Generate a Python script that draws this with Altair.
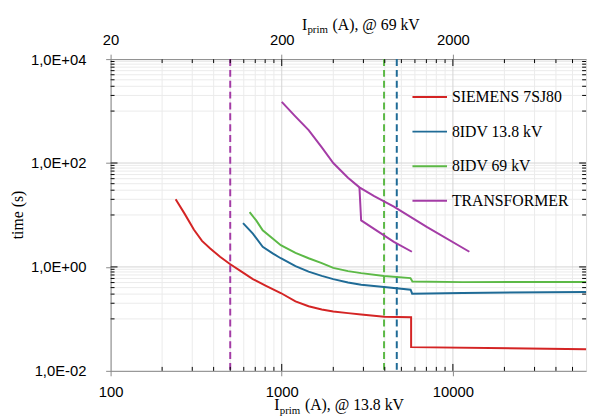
import altair as alt
import pandas as pd

# ---------------- data ----------------
series_names = ["SIEMENS 7SJ80", "8IDV 13.8 kV", "8IDV 69 kV", "TRANSFORMER"]
series_colors = ["#d42424", "#1f6b96", "#5cb946", "#a43ca6"]

siemens_x = [240, 271, 307, 342, 382, 436, 498, 594, 678, 809, 987, 1203, 1435, 1713, 2000,
             2439, 2911, 3963, 5700, 5700, 60000]
siemens_y = [20, 10.5, 5.2, 3.17, 2.27, 1.57, 1.14, 0.778, 0.582, 0.434, 0.315, 0.218, 0.175,
             0.152, 0.139, 0.129, 0.122, 0.110, 0.108, 0.0286, 0.026]

idv138_x = [594, 678, 774, 885, 987, 1203, 1435, 1713, 2000, 2439, 2911, 3963, 5660, 5780, 11400, 60000]
idv138_y = [6.98, 4.38, 2.44, 1.82, 1.47, 1.04, 0.81, 0.674, 0.582, 0.502, 0.454, 0.41, 0.365,
            0.306, 0.316, 0.33]

idv69_x = [649, 709, 774, 885, 987, 1203, 1435, 1713, 2000, 2439, 2911, 3963, 5650, 5800, 11400, 60000]
idv69_y = [11.3, 7.85, 5.07, 3.52, 2.62, 1.87, 1.47, 1.18, 0.96, 0.83, 0.76, 0.67, 0.61, 0.525,
           0.51, 0.515]

trafo_upper_x = [1000, 1200, 1436, 1714, 2000, 2437, 2844, 3467, 4520, 7030, 12480]
trafo_upper_y = [1500, 790, 430, 200, 100, 52, 34, 23, 14.5, 5.9, 1.96]
trafo_lower_x = [2844, 2910, 4520, 5760]
trafo_lower_y = [34, 7.85, 3.03, 1.96]

pickup_x = [500, 3960, 4700]
pickup_colors = ["#a43ca6", "#5cb946", "#1f6b96"]

x_minor = [200, 300, 400, 500, 600, 700, 800, 900,
           2000, 3000, 4000, 5000, 6000, 7000, 8000, 9000,
           20000, 30000, 40000, 50000]
x_major = [1000, 10000]
y_minor = [0.1, 0.2, 0.3, 0.4, 0.5, 0.6, 0.7, 0.8, 0.9,
           10, 20, 30, 40, 50, 60, 70, 80, 90,
           1000, 2000, 3000, 4000, 5000, 6000, 7000, 8000, 9000]
y_major = [1, 100]

x_label_values = [100, 1000, 10000]
top_labels = ["20", "200", "2000"]
y_label_values = [0.01, 1, 100, 10000]
y_labels = ["1,0E-02", "1,0E+00", "1,0E+02", "1,0E+04"]

title_main = "I"
title_sub = "prim"
bottom_rest = "(A), @ 13.8 kV"
top_rest = "(A), @ 69 kV"
y_title = "time (s)"

# ---------------- build tables ----------------
rows = []
def add(name, seg, xs, ys):
    for i, (a, b) in enumerate(zip(xs, ys)):
        rows.append({"series": name, "seg": seg, "order": i, "x": a, "y": b})

add(series_names[0], "a", siemens_x, siemens_y)
add(series_names[1], "b", idv138_x, idv138_y)
add(series_names[2], "c", idv69_x, idv69_y)
add(series_names[3], "d", trafo_upper_x, trafo_upper_y)
add(series_names[3], "e", trafo_lower_x, trafo_lower_y)
curves = pd.DataFrame(rows)

W, H = 482, 316
FONT = "Liberation Serif"

xscale = alt.Scale(type="log", domain=[100, 60000], nice=False)
yscale = alt.Scale(type="log", domain=[0.01, 10000], nice=False)

def expr_map(vals, labs):
    e = "''"
    for v, l in zip(vals, labs):
        e = f"(abs(datum.value - {v}) < {v}*1e-6) ? '{l}' : " + e
    return e

# grid
gx_minor = alt.Chart(pd.DataFrame({"x": x_minor})).mark_rule(color="#ebebeb", strokeWidth=1).encode(
    x=alt.X("x:Q", scale=xscale, axis=None), y=alt.value(0), y2=alt.value(H))
gy_minor = alt.Chart(pd.DataFrame({"y": y_minor})).mark_rule(color="#ebebeb", strokeWidth=1).encode(
    y=alt.Y("y:Q", scale=yscale, axis=None), x=alt.value(0), x2=alt.value(W))
gx_major = alt.Chart(pd.DataFrame({"x": x_major})).mark_rule(color="#d4d4d4", strokeWidth=1).encode(
    x=alt.X("x:Q", scale=xscale, axis=None), y=alt.value(0), y2=alt.value(H))
gy_major = alt.Chart(pd.DataFrame({"y": y_major})).mark_rule(color="#d4d4d4", strokeWidth=1).encode(
    y=alt.Y("y:Q", scale=yscale, axis=None), x=alt.value(0), x2=alt.value(W))

# top axis (labels only) carried by an invisible layer
top_axis = alt.Chart(pd.DataFrame({"x": x_label_values})).mark_point(opacity=0).encode(
    x=alt.X("x:Q", scale=xscale,
            axis=alt.Axis(orient="top", values=x_label_values, title=None, labelFlush=False,
                          labelExpr=expr_map(x_label_values, top_labels),
                          labelPadding=7, labelFontSize=15)),
    y=alt.value(0))

# dashed pickups
dash = alt.Chart(pd.DataFrame({"x": pickup_x, "c": pickup_colors})).mark_rule(
    strokeWidth=2, strokeDash=[7, 4]).encode(
    x=alt.X("x:Q", scale=xscale, axis=None), y=alt.value(0), y2=alt.value(H),
    color=alt.Color("c:N", scale=None))

# curves
lines = alt.Chart(curves).mark_line(strokeWidth=2).encode(
    x=alt.X("x:Q", scale=xscale,
            axis=alt.Axis(orient="bottom", values=x_label_values, title=None, labelFlush=False,
                          labelExpr="format(datum.value, 'd')", labelPadding=9, labelFontSize=15)),
    y=alt.Y("y:Q", scale=yscale,
            axis=alt.Axis(orient="left", values=y_label_values, title=None, labelFlush=False,
                          labelExpr=expr_map(y_label_values, y_labels), labelPadding=20,
                          labelFontSize=15, labelOverlap=False)),
    color=alt.Color("series:N", scale=alt.Scale(domain=series_names, range=series_colors),
                    legend=alt.Legend(title=None, orient="none", legendX=305, legendY=20,
                                      symbolType="stroke", symbolSize=1225, symbolStrokeWidth=2,
                                      labelFont=FONT, labelFontSize=16, labelOffset=4,
                                      rowPadding=8, labelColor="black")),
    detail="seg:N",
    order="order:Q")

# inside ticks
def xticks(vals, length):
    d = pd.DataFrame({"x": vals})
    b = alt.Chart(d).mark_rule(color="black", strokeWidth=1).encode(
        x=alt.X("x:Q", scale=xscale, axis=None), y=alt.value(H), y2=alt.value(H - length))
    t = alt.Chart(d).mark_rule(color="black", strokeWidth=1).encode(
        x=alt.X("x:Q", scale=xscale, axis=None), y=alt.value(0), y2=alt.value(length))
    return [b, t]

def yticks(vals, length):
    d = pd.DataFrame({"y": vals})
    l = alt.Chart(d).mark_rule(color="black", strokeWidth=1).encode(
        y=alt.Y("y:Q", scale=yscale, axis=None), x=alt.value(0), x2=alt.value(length))
    r = alt.Chart(d).mark_rule(color="black", strokeWidth=1).encode(
        y=alt.Y("y:Q", scale=yscale, axis=None), x=alt.value(W), x2=alt.value(W - length))
    return [l, r]

ticks = xticks(x_minor, 4) + xticks(x_major, 7) + yticks(y_minor, 4) + yticks(y_major, 7)

# titles as text (for subscript)
def txt(s, x, y, size, angle=None, align="left"):
    kw = dict(font=FONT, fontSize=size, color="black", align=align, baseline="alphabetic")
    if angle is not None:
        kw["angle"] = angle
        kw["baseline"] = "middle"
    return alt.Chart(pd.DataFrame({"t": [s]})).mark_text(**kw).encode(
        text="t:N", x=alt.value(x), y=alt.value(y))

bx, by = 166, 356
tx, ty = 194, -30
titles = [
    txt(title_main, bx, by, 16), txt(title_sub, bx + 5.5, by + 3.5, 11), txt(bottom_rest, bx + 31, by, 16),
    txt(title_main, tx, ty, 16), txt(title_sub, tx + 5.5, ty + 3.5, 11), txt(top_rest, tx + 31, ty, 16),
    txt(y_title, -94, H / 2, 16, angle=270, align="center"),
]

chart = alt.layer(gx_minor, gy_minor, gx_major, gy_major, top_axis, dash, lines, *ticks, *titles).resolve_axis(
    x="independent", y="independent").properties(
    width=W, height=H,
    padding={"left": 104, "top": 49, "right": 6, "bottom": 46},
    autosize=alt.AutoSizeParams(type="none"),
).configure_view(stroke="black", strokeWidth=2).configure_axis(
    domain=False, ticks=False, tickSize=0, grid=False,
    labelFont=FONT, labelColor="black", labelFontSize=15
).configure(background="white")

chart.save("out.html", embed_options={"renderer": "svg", "actions": False})
